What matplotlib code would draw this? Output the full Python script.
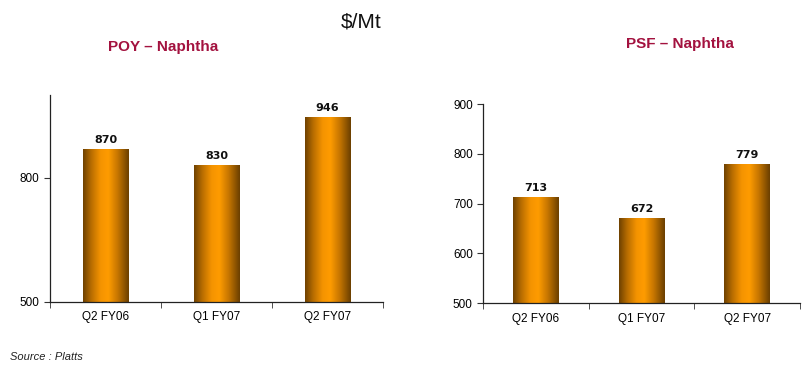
import numpy as np
import matplotlib
matplotlib.use("Agg")
from matplotlib import pyplot as plt
from matplotlib.colors import LinearSegmentedColormap

quarters = ["Q2 FY06", "Q1 FY07", "Q2 FY07"]
poy_naphtha = [870, 830, 946]
psf_naphtha = [713, 672, 779]

NARROW = ["Liberation Sans Narrow", "Liberation Sans", "DejaVu Sans"]
plt.rcParams["font.family"] = ["Liberation Sans", "DejaVu Sans"]

# brown -> orange -> brown across each bar
bar_cmap = LinearSegmentedColormap.from_list(
    "cyl", [(0.0, "#6e4100"), (0.18, "#b86d00"), (0.38, "#f49300"),
            (0.55, "#ff9c00"), (0.75, "#c87700"), (1.0, "#6a3f00")])


def gradient_bars(ax, values, width):
    x = np.arange(len(values))
    lo, hi = ax.get_ylim()
    heights = [v - lo for v in values]
    bars = ax.bar(x, heights, width=width, bottom=lo, color="none",
                  edgecolor="none", zorder=2)
    grad = np.linspace(0, 1, 256).reshape(1, -1)
    for b, v in zip(bars, values):
        x0 = b.get_x()
        im = ax.imshow(grad, cmap=bar_cmap, aspect="auto", zorder=2,
                       extent=(x0, x0 + b.get_width(), lo, v), interpolation="bicubic")
        im.set_clip_path(b)
        ax.text(b.get_x() + b.get_width() / 2, v + (hi - lo) * 0.02,
                str(v), ha="center", va="bottom", fontsize=8, fontweight="bold",
                family="DejaVu Sans", color="#111111")
    ax.set_xlim(-0.5, len(values) - 0.5)
    ax.set_ylim(lo, hi)
    return bars


def style_axis(ax, ylim, yticks):
    ax.set_xlim(-0.5, len(quarters) - 0.5)
    ax.set_ylim(*ylim)
    ax.set_yticks(yticks)
    ax.set_xticks(range(len(quarters)))
    ax.set_xticklabels(quarters, fontsize=8.5)
    ax.tick_params(axis="x", length=0, pad=7)
    ax.set_xticks(np.arange(-0.5, len(quarters)), minor=True)
    ax.tick_params(axis="x", which="minor", length=4, color="#333333")
    ax.tick_params(axis="y", labelsize=8.5, length=4, color="#333333")
    for s in ("top", "right"):
        ax.spines[s].set_visible(False)
    for s in ("left", "bottom"):
        ax.spines[s].set_color("#222222")
        ax.spines[s].set_linewidth(0.9)
        ax.spines[s].set_zorder(3)


fig = plt.figure(figsize=(8.04, 3.68), dpi=100)

ax1 = fig.add_axes([0.0622, 0.180, 0.414, 0.562])
style_axis(ax1, (500, 1000), [500, 800])
gradient_bars(ax1, poy_naphtha, 0.41)

ax2 = fig.add_axes([0.601, 0.1766, 0.394, 0.540])
style_axis(ax2, (500, 900), [500, 600, 700, 800, 900])
gradient_bars(ax2, psf_naphtha, 0.43)

fig.text(0.449, 0.94, "$/Mt", ha="center", va="center", fontsize=15,
         family=NARROW, color="#111111")
fig.text(0.203, 0.873, "POY \u2013 Naphtha", ha="center", va="center", fontsize=11,
         fontweight="bold", family=NARROW, color="#a3123f")
fig.text(0.846, 0.880, "PSF \u2013 Naphtha", ha="center", va="center", fontsize=11,
         fontweight="bold", family=NARROW, color="#a3123f")
fig.text(0.012, 0.030, "Source : Platts", ha="left", va="center", fontsize=8,
         style="italic", color="#222222")

fig.savefig("out.png", dpi=100)
